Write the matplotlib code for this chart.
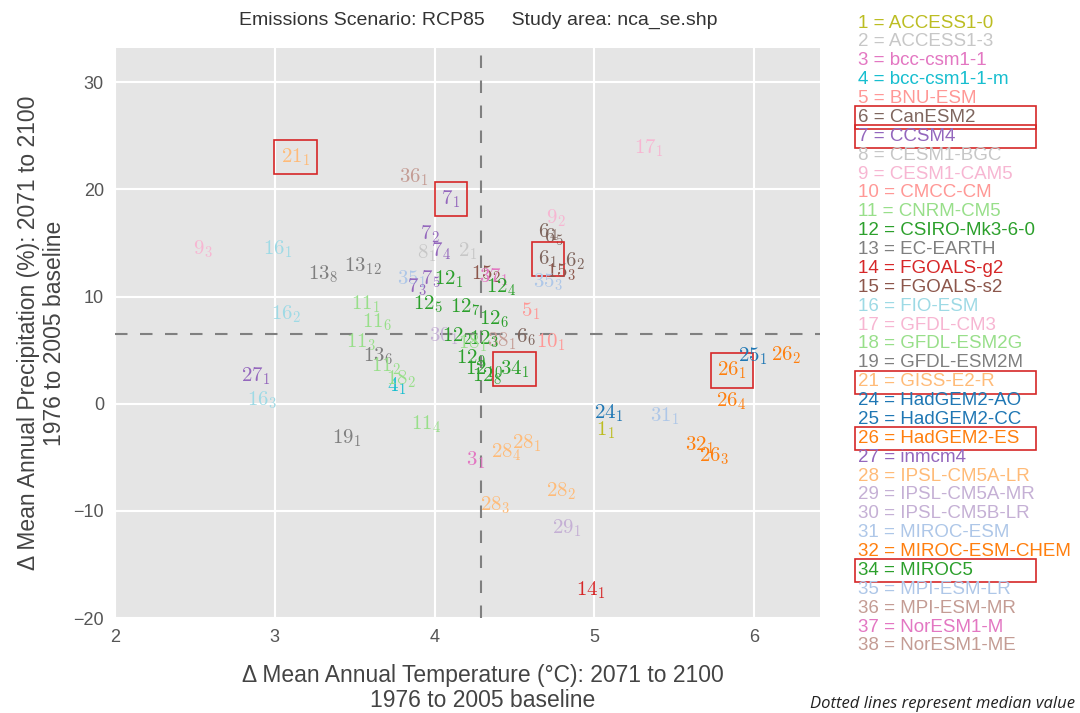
import matplotlib
matplotlib.use("Agg")
import matplotlib.pyplot as plt
from matplotlib.patches import Rectangle

plt.rcParams['font.family'] = ['Liberation Sans', 'DejaVu Sans']
plt.rcParams['mathtext.fontset'] = 'cm'

# ---- legend / model list ----
model_numbers = [1, 2, 3, 4, 5, 6, 7, 8, 9, 10, 11, 12, 13, 14, 15, 16, 17, 18, 19,
                 21, 24, 25, 26, 27, 28, 29, 30, 31, 32, 34, 35, 36, 37, 38]
model_names = ["ACCESS1-0", "ACCESS1-3", "bcc-csm1-1", "bcc-csm1-1-m", "BNU-ESM",
               "CanESM2", "CCSM4", "CESM1-BGC", "CESM1-CAM5", "CMCC-CM", "CNRM-CM5",
               "CSIRO-Mk3-6-0", "EC-EARTH", "FGOALS-g2", "FGOALS-s2", "FIO-ESM",
               "GFDL-CM3", "GFDL-ESM2G", "GFDL-ESM2M", "GISS-E2-R", "HadGEM2-AO",
               "HadGEM2-CC", "HadGEM2-ES", "inmcm4", "IPSL-CM5A-LR", "IPSL-CM5A-MR",
               "IPSL-CM5B-LR", "MIROC-ESM", "MIROC-ESM-CHEM", "MIROC5", "MPI-ESM-LR",
               "MPI-ESM-MR", "NorESM1-M", "NorESM1-ME"]
model_colors = ["#bcbd22", "#c7c7c7", "#e377c2", "#17becf", "#ff9896", "#7f665e",
                "#9467bd", "#c7c7c7", "#f7b6d2", "#ff9896", "#98df8a", "#2ca02c",
                "#7f7f7f", "#d62728", "#8c564b", "#9edae5", "#f7b6d2", "#98df8a",
                "#7f7f7f", "#ffbb78", "#1f77b4", "#1f77b4", "#ff7f0e", "#9467bd",
                "#ffbb78", "#c5b0d5", "#c5b0d5", "#aec7e8", "#ff7f0e", "#2ca02c",
                "#aec7e8", "#c49c94", "#e377c2", "#c49c94"]
highlighted_models = [6, 7, 21, 26, 34]

# ---- scatter data (model, run, dT, dP) ----
point_model = [21, 36, 7, 17, 9, 16, 13, 13, 7, 8, 7, 2, 15, 37, 12, 9, 6, 6, 6, 15,
               6, 35, 35, 7, 7, 12, 12, 12, 12, 5, 10, 6, 38, 30, 12, 12, 18, 12, 12,
               12, 34, 11, 11, 11, 13, 11, 4, 18, 16, 27, 16, 19, 11, 3, 28, 28, 28,
               28, 29, 14, 24, 1, 31, 32, 26, 26, 26, 25, 26]
point_run = [1, 1, 1, 1, 3, 1, 8, 12, 2, 1, 4, 1, 2, 1, 4, 2, 4, 5, 1, 3,
             2, 3, 1, 3, 5, 1, 5, 7, 6, 1, 1, 6, 1, 1, 2, 3, 1, 9, 10,
             8, 1, 1, 6, 3, 6, 2, 1, 2, 2, 1, 3, 1, 4, 1, 4, 1, 2,
             3, 1, 1, 1, 1, 1, 1, 3, 4, 1, 1, 2]
delta_temp = [3.13, 3.87, 4.10, 5.34, 2.55, 3.02, 3.30, 3.55, 3.97, 3.95, 4.04, 4.21,
              4.32, 4.37, 4.42, 4.76, 4.71, 4.75, 4.71, 4.79, 4.88, 4.71, 3.86, 3.89,
              3.98, 4.09, 3.96, 4.19, 4.37, 4.60, 4.73, 4.57, 4.42, 4.06, 4.14, 4.31,
              4.24, 4.23, 4.31, 4.33, 4.50, 3.57, 3.64, 3.54, 3.65, 3.70, 3.76, 3.79,
              3.07, 2.88, 2.92, 3.45, 3.95, 4.26, 4.45, 4.58, 4.79, 4.38, 4.83, 4.98,
              5.09, 5.07, 5.44, 5.66, 5.75, 5.86, 5.86, 5.99, 6.20]
delta_precip = [23.0, 21.1, 19.1, 23.8, 14.4, 14.4, 12.1, 12.8, 15.8, 14.0, 14.2, 14.2,
                12.1, 11.8, 10.9, 17.3, 16.0, 15.5, 13.5, 12.3, 13.3, 11.3, 11.6, 10.9,
                11.6, 11.6, 9.3, 9.0, 7.9, 8.6, 5.75, 6.2, 5.8, 6.3, 6.3, 6.0,
                5.6, 4.2, 3.2, 2.6, 3.2, 9.3, 7.6, 5.75, 4.4, 3.5, 1.6, 2.3,
                8.35, 2.6, 0.3, -3.2, -1.9, -5.3, -4.5, -3.7, -8.2, -9.5, -11.6, -17.4,
                -0.93, -2.5, -1.2, -3.9, -4.9, 0.2, 3.1, 4.4, 4.5]
boxed_points = [(21, 1), (7, 1), (6, 1), (34, 1), (26, 1)]

median_temp = 4.29
median_precip = 6.5

x_ticks = [2, 3, 4, 5, 6]
y_ticks = [-20, -10, 0, 10, 20, 30]

color_of = dict(zip(model_numbers, model_colors))

fig = plt.figure(figsize=(10.8, 7.13), dpi=100)
ax = fig.add_axes([0.1065, 0.133, 0.6525, 0.8])
ax.set_facecolor("#e5e5e5")
for s in ax.spines.values():
    s.set_visible(False)
ax.set_xlim(2, 6.41)
ax.set_ylim(-20, 33.2)
ax.set_xticks(x_ticks)
ax.set_yticks(y_ticks)
ax.grid(True, color="white", linewidth=1.5)
ax.set_axisbelow(True)
ax.tick_params(length=0, labelsize=13, labelcolor="#555555", pad=8)

ax.axvline(median_temp, color="#808080", lw=1.5, dashes=(6, 6), zorder=1)
ax.axhline(median_precip, color="#808080", lw=1.5, dashes=(6, 6), zorder=1)

for m, r, t, p in zip(point_model, point_run, delta_temp, delta_precip):
    kw = {}
    if (m, r) in boxed_points:
        kw['bbox'] = dict(boxstyle="square,pad=0.3", fc="none", ec="#d62728", lw=1.2)
    ax.text(t, p, r"$%d_{%d}$" % (m, r), color=color_of[m], fontsize=15,
            ha="center", va="center", zorder=3, **kw)

ax.set_xlabel("\u0394 Mean Annual Temperature (\u00b0C): 2071 to 2100\n1976 to 2005 baseline",
              fontsize=16.5, color="#444444", linespacing=1.1)
ax.xaxis.set_label_coords(0.522, -0.08)
ax.set_ylabel("\u0394 Mean Annual Precipitation (%): 2071 to 2100\n1976 to 2005 baseline",
              fontsize=16.5, color="#444444", linespacing=1.15)
ax.yaxis.set_label_coords(-0.07, 0.5)

fig.text(478 / 1080, 1 - 20 / 713, "Emissions Scenario: RCP85     Study area: nca_se.shp",
         ha="center", va="center", fontsize=14, color="#333333")

# legend
y0 = 23
dy = (646 - 23) / 33
for i, (n, name, c) in enumerate(zip(model_numbers, model_names, model_colors)):
    yy = 1 - (y0 + i * dy) / 713
    fig.text(858 / 1080, yy, f"{n} = {name}", color=c, fontsize=13.5,
             ha="left", va="center")
    if n in highlighted_models:
        fig.patches.append(Rectangle((855 / 1080, yy - 12 / 713), 181 / 1080, 23 / 713,
                                     transform=fig.transFigure, fill=False,
                                     edgecolor="#d62728", lw=1.2))

fig.text(1075 / 1080, 1 - 704 / 713, "Dotted lines represent median value",
         ha="right", va="center", fontsize=12, style="italic", color="#222222",
         family=["Open Sans", "DejaVu Sans"])

fig.savefig("out.png", dpi=100)
